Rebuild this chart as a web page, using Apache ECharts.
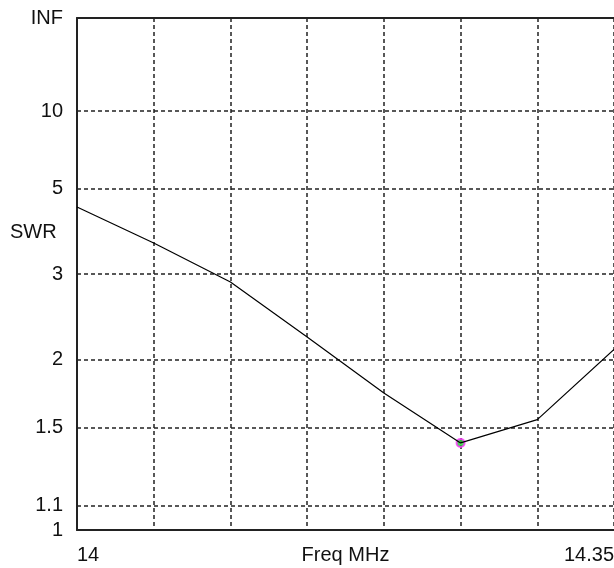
<!DOCTYPE html>
<html>
<head>
<meta charset="utf-8">
<script src="https://cdn.jsdelivr.net/npm/echarts@6/dist/echarts.min.js"></script>
<style>
html,body{margin:0;padding:0;background:#fff;}
#chart{width:614px;height:568px;}
</style>
</head>
<body>
<div id="chart"></div>
<script>
// Data
var freqMHz = [14.00, 14.05, 14.10, 14.15, 14.20, 14.25, 14.30, 14.35];
var swrValues = [4.42, 3.55, 2.88, 2.21, 1.73, 1.41, 1.55, 2.09];
var yTickSwr = [1, 1.1, 1.5, 2, 3, 5, 10, Infinity];
var yTickLabels = ['1', '1.1', '1.5', '2', '3', '5', '10', 'INF'];
var xTickLabels = { '14': '14', '14.35': '14.35' };

// SWR -> reflection coefficient scale (1 -> 0, INF -> 1)
function rho(s) { return isFinite(s) ? (s - 1) / (s + 1) : 1; }

var yTickRho = yTickSwr.map(rho);
var lineData = freqMHz.map(function (f, i) { return [f, rho(swrValues[i])]; });
var minIdx = 0;
swrValues.forEach(function (v, i) { if (v < swrValues[minIdx]) minIdx = i; });

var font = 'Liberation Sans, Arial, sans-serif';
var fs = 20;
var chart = echarts.init(document.getElementById('chart'));
chart.setOption({
  animation: false,
  grid: { left: 77, right: 0, top: 18, bottom: 38, outerBoundsMode: 'none', containLabel: false },
  xAxis: [{
    type: 'value', min: 14, max: 14.35, interval: 0.05,
    name: 'Freq MHz', nameLocation: 'middle', nameGap: 15, nameMoveOverlap: false,
    nameTextStyle: { fontFamily: font, fontSize: fs, color: '#111', verticalAlign: 'top' },
    axisLine: { show: true, onZero: false, lineStyle: { color: '#222', width: 2 } },
    axisTick: { show: false },
    axisLabel: {
      margin: 15, fontFamily: font, fontSize: fs, color: '#111',
      alignMinLabel: 'left', alignMaxLabel: 'right', verticalAlign: 'top',
      formatter: function (v) { var k = String(Math.round(v * 100) / 100); return xTickLabels[k] || ''; }
    },
    splitLine: { show: true, lineStyle: { color: '#222', width: 1.5, type: [4, 3] } }
  }, {
    type: 'value', min: 14, max: 14.35, position: 'top',
    axisLine: { show: true, onZero: false, lineStyle: { color: '#222', width: 2 } },
    axisTick: { show: false }, axisLabel: { show: false }, splitLine: { show: false }
  }],
  yAxis: {
    type: 'value', min: 0, max: 1,
    axisLine: { show: true, onZero: false, lineStyle: { color: '#222', width: 2 } },
    axisTick: { show: false, customValues: yTickRho },
    axisLabel: {
      customValues: yTickRho, margin: 14, fontFamily: font, fontSize: fs, color: '#111',
      formatter: function (v) {
        var best = 0;
        yTickRho.forEach(function (r, i) { if (Math.abs(r - v) < Math.abs(yTickRho[best] - v)) best = i; });
        return yTickLabels[best];
      }
    },
    splitLine: { show: true, lineStyle: { color: '#222', width: 1.5, type: [4, 3] } }
  },
  graphic: [{
    type: 'text', left: 10, top: 222,
    style: { text: 'SWR', font: fs + 'px ' + font, fill: '#111' }
  }],
  series: [{
    type: 'line', data: lineData, showSymbol: false, silent: true,
    lineStyle: { color: '#000', width: 1.2 }
  }, {
    type: 'scatter', data: [lineData[minIdx]], symbol: 'circle', symbolSize: 8, silent: true,
    itemStyle: { color: '#22cc33', borderColor: '#ff33ff', borderWidth: 2 }
  }]
});
</script>
</body>
</html>
